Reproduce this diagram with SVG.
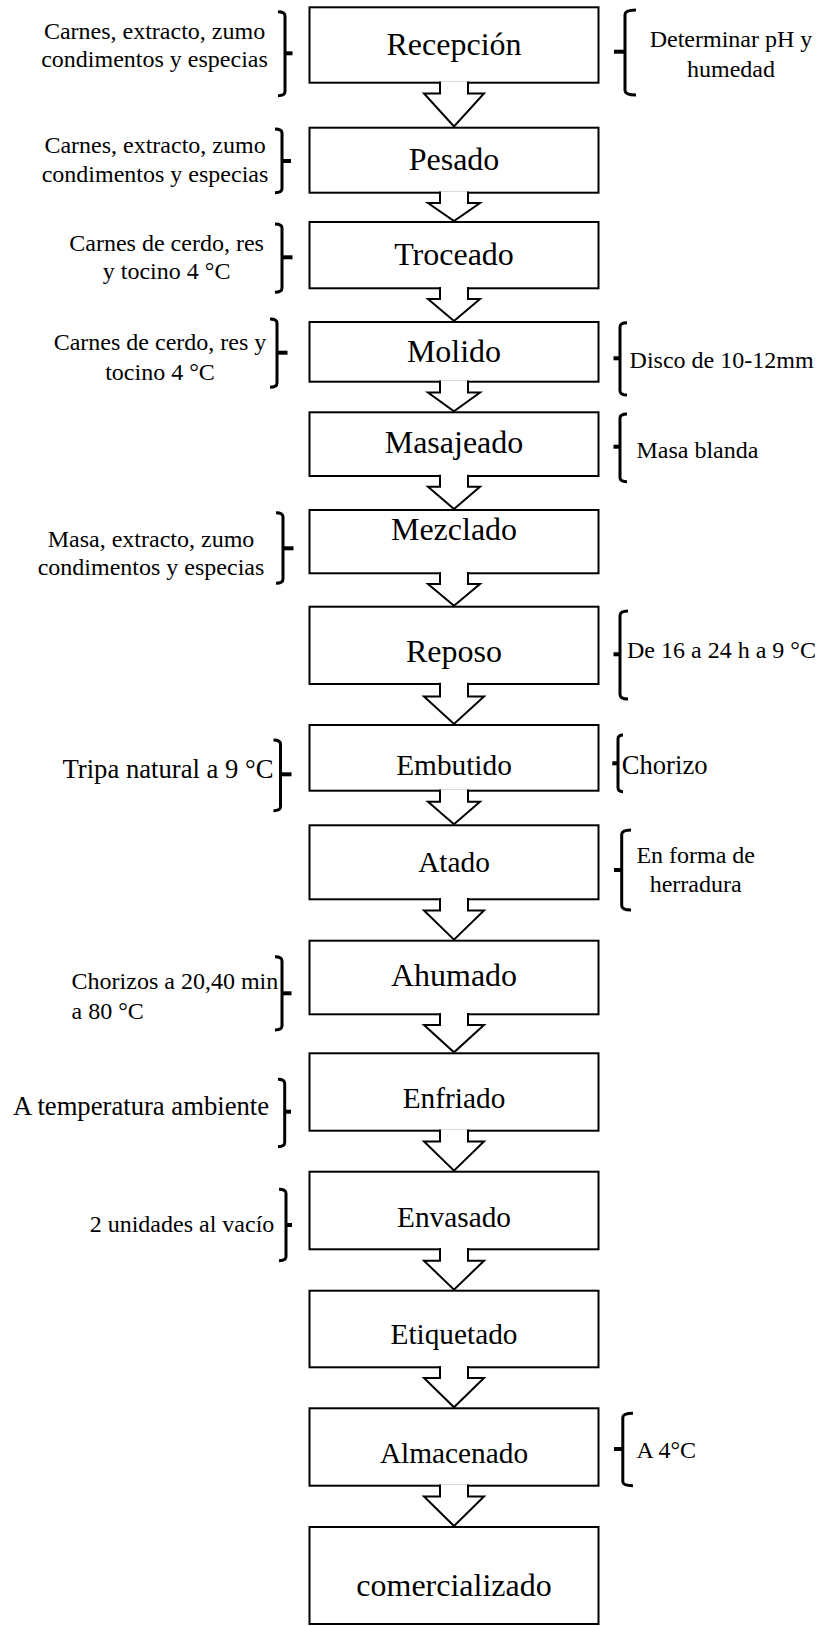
<svg xmlns="http://www.w3.org/2000/svg" width="819" height="1626" viewBox="0 0 819 1626">
<style>
.box{fill:#fff;stroke:#000;stroke-width:2}
.lbl{font-family:"Liberation Serif","Times New Roman",serif;font-size:32px;text-anchor:middle;fill:#000}
.lbl2{font-size:29.33px}
.note{font-family:"Liberation Serif","Times New Roman",serif;font-size:24px;fill:#000}
.big{font-size:26.67px}
.mid{text-anchor:middle}
.br{fill:none;stroke:#000;stroke-width:3}
.tk{fill:none;stroke:#000;stroke-width:4}
.arr{fill:#fff;stroke:#000;stroke-width:2;stroke-linejoin:miter}
</style>
<rect width="819" height="1626" fill="#fff"/>
<g id="n1"><rect class="box" x="309.5" y="7.3" width="289" height="75.4"/><text class="lbl" x="454" y="55">Recepción</text></g>
<g id="n2"><rect class="box" x="309.5" y="127.7" width="289" height="65"/><text class="lbl" x="454" y="170">Pesado</text></g>
<g id="n3"><rect class="box" x="309.5" y="222" width="289" height="66.3"/><text class="lbl" x="454" y="265">Troceado</text></g>
<g id="n4"><rect class="box" x="309.5" y="322" width="289" height="59.7"/><text class="lbl" x="454" y="361.7">Molido</text></g>
<g id="n5"><rect class="box" x="309.5" y="412.3" width="289" height="63.7"/><text class="lbl" x="454" y="453.3">Masajeado</text></g>
<g id="n6"><rect class="box" x="309.5" y="510" width="289" height="63.3"/><text class="lbl" x="454" y="540">Mezclado</text></g>
<g id="n7"><rect class="box" x="309.5" y="606.7" width="289" height="77.3"/><text class="lbl" x="454" y="661.7">Reposo</text></g>
<g id="n8"><rect class="box" x="309.5" y="725" width="289" height="65.7"/><text class="lbl lbl2" x="454" y="775">Embutido</text></g>
<g id="n9"><rect class="box" x="309.5" y="825.3" width="289" height="74"/><text class="lbl lbl2" x="454" y="871.7">Atado</text></g>
<g id="n10"><rect class="box" x="309.5" y="940.7" width="289" height="73.6"/><text class="lbl" x="454" y="986">Ahumado</text></g>
<g id="n11"><rect class="box" x="309.5" y="1053.3" width="289" height="77.4"/><text class="lbl lbl2" x="454" y="1108.3">Enfriado</text></g>
<g id="n12"><rect class="box" x="309.5" y="1171.7" width="289" height="77.6"/><text class="lbl lbl2" x="454" y="1226.7">Envasado</text></g>
<g id="n13"><rect class="box" x="309.5" y="1290.7" width="289" height="76.6"/><text class="lbl lbl2" x="454" y="1344">Etiquetado</text></g>
<g id="n14"><rect class="box" x="309.5" y="1408.3" width="289" height="77.4"/><text class="lbl lbl2" x="454" y="1463.3">Almacenado</text></g>
<g id="n15"><rect class="box" x="309.5" y="1527" width="289" height="97"/><text class="lbl" x="454" y="1596">comercializado</text></g>

<g id="connectors">
<path class="arr" d="M440 81.5V93.5H424L454 126.5L484 93.5H468V81.5"/>
<path class="arr" d="M440 191.5V203H428L454 221L480 203H468V191.5"/>
<path class="arr" d="M440 287V299H428L454 321L480 299H468V287"/>
<path class="arr" d="M440 380.5V392.5H428L454 411.3L480 392.5H468V380.5"/>
<path class="arr" d="M440 474.8V486.7H428L454 509L480 486.7H468V474.8"/>
<path class="arr" d="M440 572V584H428L454 605.7L480 584H468V572"/>
<path class="arr" d="M440 682.8V696.5H424L454 724L484 696.5H468V682.8"/>
<path class="arr" d="M440 789.5V801.7H428L454 824.3L480 801.7H468V789.5"/>
<path class="arr" d="M440 898V910.5H424L454 939.7L484 910.5H468V898"/>
<path class="arr" d="M440 1013V1025H424L454 1052.3L484 1025H468V1013"/>
<path class="arr" d="M440 1129.5V1141.5H424L454 1170.7L484 1141.5H468V1129.5"/>
<path class="arr" d="M440 1248V1260.7H424L454 1289.7L484 1260.7H468V1248"/>
<path class="arr" d="M440 1366V1378H424L454 1407.3L484 1378H468V1366"/>
<path class="arr" d="M440 1484.5V1496.5H424L454 1526L484 1496.5H468V1484.5"/>
</g>

<g id="a1L"><path class="br" d="M278 11.7Q285 11.7 285 16V91.5Q285 95.7 278 95.7"/><path class="tk" d="M285 53.3H292.5"/>
<text class="note mid" x="154.5" y="39.3">Carnes, extracto, zumo</text><text class="note mid" x="154.5" y="66.7">condimentos y especias</text></g>
<g id="a1R"><path class="br" d="M636 10Q625 10 625 14.5V90.5Q625 95 636 95"/><path class="tk" d="M625 51.7H614"/>
<text class="note mid" x="731" y="46.7">Determinar pH y</text><text class="note mid" x="731" y="76.7">humedad</text></g>
<g id="a2L"><path class="br" d="M275 129Q282 129 282 133V188.5Q282 192.7 275 192.7"/><path class="tk" d="M282 161H291"/>
<text class="note mid" x="155" y="153.3">Carnes, extracto, zumo</text><text class="note mid" x="155" y="181.7">condimentos y especias</text></g>
<g id="a3L"><path class="br" d="M275 224Q282 224 282 228V288Q282 292.3 275 292.3"/><path class="tk" d="M282 257.3H292.5"/>
<text class="note mid" x="166.6" y="250.7">Carnes de cerdo, res</text><text class="note mid" x="166.6" y="279.3">y tocino 4 °C</text></g>
<g id="a4L"><path class="br" d="M270 319Q277 319 277 323V383Q277 387.3 270 387.3"/><path class="tk" d="M277 352.7H287.5"/>
<text class="note mid" x="160" y="350">Carnes de cerdo, res y</text><text class="note mid" x="160" y="380">tocino 4 °C</text></g>
<g id="a4R"><path class="br" d="M627 322.7Q620 322.7 620 327V390.7Q620 395 627 395"/><path class="tk" d="M620 358.3H613.5"/>
<text class="note" x="629.6" y="368.3">Disco de 10-12mm</text></g>
<g id="a5R"><path class="br" d="M627 414Q620 414 620 418V477.5Q620 481.7 627 481.7"/><path class="tk" d="M620 446.7H613.5"/>
<text class="note" x="636.4" y="458.3">Masa blanda</text></g>
<g id="a6L"><path class="br" d="M276 512.7Q283 512.7 283 517V579Q283 583.3 276 583.3"/><path class="tk" d="M283 548.3H293.5"/>
<text class="note mid" x="151" y="546.7">Masa, extracto, zumo</text><text class="note mid" x="151" y="575">condimentos y especias</text></g>
<g id="a7R"><path class="br" d="M628 611Q620 611 620 615.5V694.5Q620 699 628 699"/><path class="tk" d="M620 654.3H613.5"/>
<text class="note" x="627" y="657.7">De 16 a 24 h a 9 °C</text></g>
<g id="a8L"><path class="br" d="M273.5 740Q280.5 740 280.5 744V806.5Q280.5 810.7 273.5 810.7"/><path class="tk" d="M280.5 774.3H291.5"/>
<text class="note big mid" x="168" y="778.3">Tripa natural a 9 °C</text></g>
<g id="a8R"><path class="br" d="M623 735Q618 735 618 739V787.5Q618 791.7 623 791.7"/><path class="tk" d="M618 763.3H612.3"/>
<text class="note big" x="621.7" y="774">Chorizo</text></g>
<g id="a9R"><path class="br" d="M631 830Q621.7 830 621.7 834.5V905.5Q621.7 910 631 910"/><path class="tk" d="M621.7 870H614"/>
<text class="note mid" x="695.7" y="863.3">En forma de</text><text class="note mid" x="695.7" y="892.3">herradura</text></g>
<g id="a10L"><path class="br" d="M275 956.7Q282 956.7 282 961V1025.8Q282 1030 275 1030"/><path class="tk" d="M282 993.3H291.5"/>
<text class="note" x="71.6" y="989.3">Chorizos a 20,40 min</text><text class="note" x="71.6" y="1019">a 80 °C</text></g>
<g id="a11L"><path class="br" d="M278 1079.3Q284.7 1079.3 284.7 1083.5V1142.5Q284.7 1146.7 278 1146.7"/><path class="tk" d="M284.7 1111.7H291"/>
<text class="note big mid" x="141" y="1115">A temperatura ambiente</text></g>
<g id="a12L"><path class="br" d="M279 1189.3Q286 1189.3 286 1193.5V1256.5Q286 1260.7 279 1260.7"/><path class="tk" d="M286 1225H292"/>
<text class="note mid" x="182" y="1232.3">2 unidades al vacío</text></g>
<g id="a14R"><path class="br" d="M633 1413.3Q622.8 1413.3 622.8 1417.5V1481.5Q622.8 1485.7 633 1485.7"/><path class="tk" d="M622.8 1449H614"/>
<text class="note" x="636.4" y="1458.3">A 4°C</text></g>
</svg>
